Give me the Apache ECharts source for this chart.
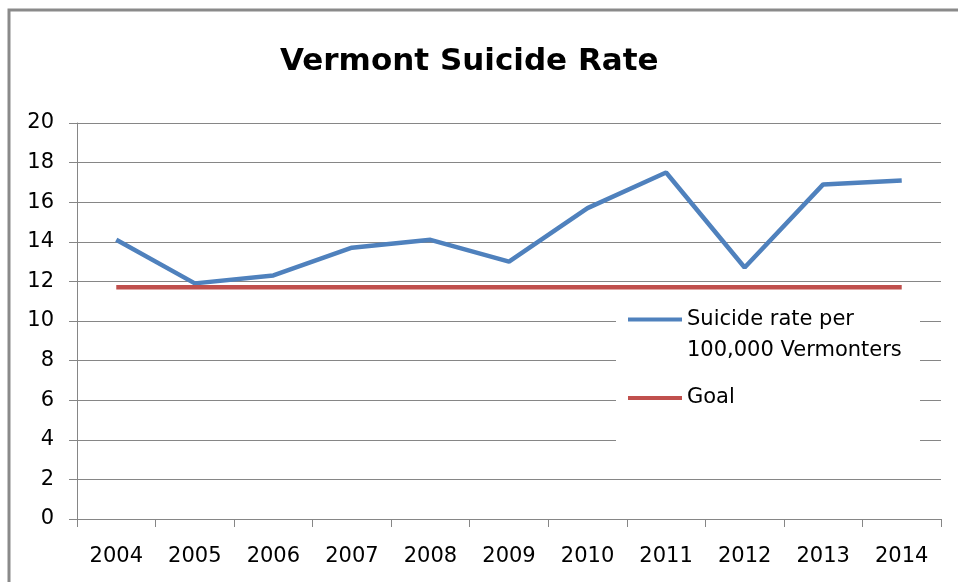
<!DOCTYPE html>
<html>
<head>
<meta charset="utf-8">
<script src="https://cdn.jsdelivr.net/npm/echarts@6/dist/echarts.min.js"></script>
<style>
    html, body { margin: 0; padding: 0; background: #fff; }
    #chart { width: 958px; height: 582px; }
</style>
</head>
<body>
<div id="chart"></div>
<script>
// 数据
const years = ['2004', '2005', '2006', '2007', '2008', '2009', '2010', '2011', '2012', '2013', '2014'];
const rateValues = [14.1, 11.9, 12.3, 13.7, 14.1, 13.0, 15.7, 17.5, 12.7, 16.9, 17.1];
const goalValues = [11.7, 11.7, 11.7, 11.7, 11.7, 11.7, 11.7, 11.7, 11.7, 11.7, 11.7];
const rateName = 'Suicide rate per\n100,000 Vermonters';
const goalName = 'Goal';

const labelFont = 'DejaVu Sans';
const gridColor = '#868686';

const chart = echarts.init(document.getElementById('chart'));
chart.setOption({
    animation: false,
    title: {
        text: 'Vermont Suicide Rate',
        left: 275,
        top: 41,
        textStyle: {
            fontFamily: labelFont,
            fontWeight: 'bold',
            fontSize: 31,
            color: '#000'
        }
    },
    color: ['#4F81BD', '#C0504D'],
    legend: [{
        orient: 'vertical',
        left: 628,
        top: 273,
        padding: 0,
        icon: 'rect',
        itemWidth: 54,
        itemHeight: 4,
        data: [rateName],
        // 图标对齐第一行: 前面加一个空行
        formatter: function(name) {
            return '\n' + name;
        },
        textStyle: { fontFamily: labelFont, fontSize: 21, lineHeight: 31, color: '#000' }
    }, {
        orient: 'vertical',
        left: 628,
        top: 386,
        padding: 0,
        icon: 'rect',
        itemWidth: 54,
        itemHeight: 4,
        data: [goalName],
        textStyle: { fontFamily: labelFont, fontSize: 21, lineHeight: 24, color: '#000' }
    }],
    grid: {
        left: 77,
        right: 17,
        top: 123,
        bottom: 63
    },
    xAxis: {
        type: 'category',
        data: years,
        boundaryGap: true,
        axisLine: { lineStyle: { color: gridColor, width: 1 } },
        axisTick: { show: true, length: 8, lineStyle: { color: gridColor } },
        axisLabel: { fontFamily: labelFont, fontSize: 21, color: '#000', margin: 27 }
    },
    yAxis: {
        type: 'value',
        min: 0,
        max: 20,
        interval: 2,
        axisLine: { show: true, lineStyle: { color: gridColor, width: 1 } },
        axisTick: { show: true, length: 8, lineStyle: { color: gridColor } },
        axisLabel: { fontFamily: labelFont, fontSize: 21, color: '#000', margin: 23 },
        splitLine: { lineStyle: { color: gridColor, width: 1 } }
    },
    graphic: [{
        // 外框
        type: 'rect',
        z: 10,
        shape: { x: 9, y: 10, width: 1200, height: 1200 },
        style: { fill: 'none', stroke: '#8a8a8a', lineWidth: 3 }
    }, {
        // 图例底色
        type: 'rect',
        z: 1,
        shape: { x: 616, y: 300, width: 304, height: 155 },
        style: { fill: '#fff' }
    }],
    series: [{
        name: rateName,
        type: 'line',
        data: rateValues,
        showSymbol: false,
        lineStyle: { width: 4.5 }
    }, {
        name: goalName,
        type: 'line',
        data: goalValues,
        showSymbol: false,
        lineStyle: { width: 4.5 }
    }]
});
</script>
</body>
</html>
